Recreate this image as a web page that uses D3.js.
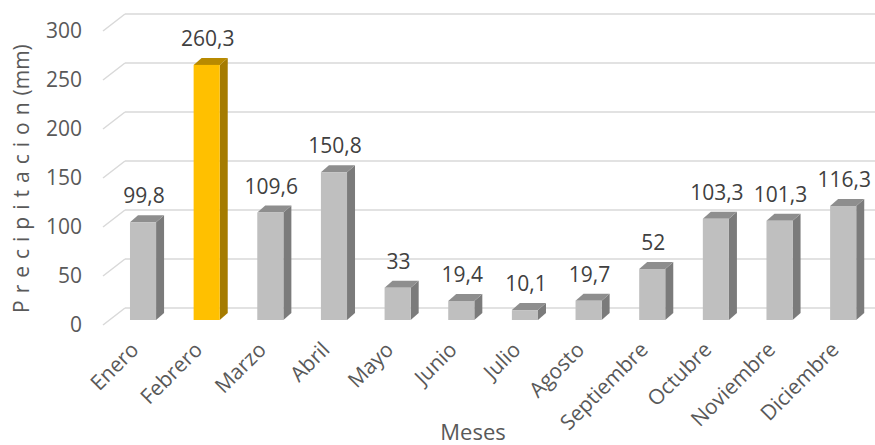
<!DOCTYPE html>
<html>
<head>
<meta charset="utf-8">
<script src="https://cdn.jsdelivr.net/npm/d3@7"></script>
<style>
  html, body { margin: 0; padding: 0; background: #fff; }
  svg { display: block; font-family: "Open Sans", sans-serif; }
</style>
</head>
<body>
<svg id="chart" width="875" height="445"></svg>
<script>
// Monthly precipitation (mm)
const months = ["Enero", "Febrero", "Marzo", "Abril", "Mayo", "Junio", "Julio",
                "Agosto", "Septiembre", "Octubre", "Noviembre", "Diciembre"];
const precipitation = [99.8, 260.3, 109.6, 150.8, 33, 19.4, 10.1, 19.7, 52, 103.3, 101.3, 116.3];
const valueLabels = ["99,8", "260,3", "109,6", "150,8", "33", "19,4", "10,1", "19,7", "52", "103,3", "101,3", "116,3"];
const highlightMonth = "Febrero";
const yTicks = [0, 50, 100, 150, 200, 250, 300];

const svg = d3.select("#chart");
const W = 875;

// Pseudo-3D geometry: the floor front edge, the bars' front plane and the back wall
const floorFrontY = 325, barFrontY = 320, wallY = 308;
const wallX = 125, frontX = 103;
const depthDx = 8, depthDy = 7; // bar side/top offset

const y = d3.scaleLinear().domain([0, 300]).range([0, 294]);
const x = d3.scaleBand().domain(months).range([111.2, W])
  .paddingInner(0.59).paddingOuter(0.295);

// Back wall gridlines + left wall diagonals
const grid = svg.append("g");
yTicks.forEach(t => {
  const yb = wallY - y(t), yf = floorFrontY - y(t);
  grid.append("line").attr("x1", wallX).attr("x2", W).attr("y1", yb).attr("y2", yb)
    .attr("stroke", "#d9d9d9").attr("stroke-width", 1.5);
  grid.append("line").attr("x1", frontX).attr("x2", wallX).attr("y1", yf).attr("y2", yb)
    .attr("stroke", "#d9d9d9").attr("stroke-width", 1.5);
});

// Y tick labels
svg.append("g").selectAll("text").data(yTicks).join("text")
  .attr("x", 82).attr("y", d => floorFrontY - y(d))
  .attr("dy", "0.35em").attr("text-anchor", "end")
  .attr("font-size", 21).attr("fill", "#595959")
  .text(d => d);

// Bars
const colors = {
  normal: { front: "#bfbfbf", top: "#8e8e8e", side: "#7b7b7b" },
  hi: { front: "#ffc000", top: "#b88a00", side: "#a57b00" }
};
const bars = svg.append("g").selectAll("g").data(months.map((m, i) => ({ m, v: precipitation[i], label: valueLabels[i] })))
  .join("g");
bars.each(function (d) {
  const g = d3.select(this);
  const c = d.m === highlightMonth ? colors.hi : colors.normal;
  const x0 = x(d.m), x1 = x0 + x.bandwidth();
  const yt = barFrontY - y(d.v), yb = barFrontY;
  g.append("path").attr("fill", c.side)
    .attr("d", `M${x1},${yt}L${x1 + depthDx},${yt - depthDy}L${x1 + depthDx},${yb - depthDy}L${x1},${yb}Z`);
  g.append("path").attr("fill", c.top)
    .attr("d", `M${x0},${yt}L${x0 + depthDx},${yt - depthDy}L${x1 + depthDx},${yt - depthDy}L${x1},${yt}Z`);
  g.append("rect").attr("x", x0).attr("y", yt).attr("width", x.bandwidth()).attr("height", y(d.v))
    .attr("fill", c.front);
  g.append("text")
    .attr("x", x0 + x.bandwidth() / 2 + 1).attr("y", yt - depthDy - 12)
    .attr("text-anchor", "middle").attr("font-size", 21).attr("fill", "#404040")
    .text(d.label);
});

// X category labels, rotated
svg.append("g").selectAll("text").data(months).join("text")
  .attr("transform", d => `translate(${x(d) + x.bandwidth() / 2 - 3},351) rotate(-45)`)
  .attr("text-anchor", "end").attr("font-size", 21).attr("fill", "#595959")
  .text(d => d);

// Axis titles
svg.append("text")
  .attr("x", 473).attr("y", 440).attr("text-anchor", "middle")
  .attr("font-size", 22).attr("fill", "#595959").text("Meses");

const yt = svg.append("text")
  .attr("transform", "translate(29,313) rotate(-90)")
  .attr("text-anchor", "start").attr("font-size", 21).attr("fill", "#595959");
yt.append("tspan").attr("letter-spacing", "7px").text("Precipitacion");
yt.append("tspan").text("(mm)");
</script>
</body>
</html>
